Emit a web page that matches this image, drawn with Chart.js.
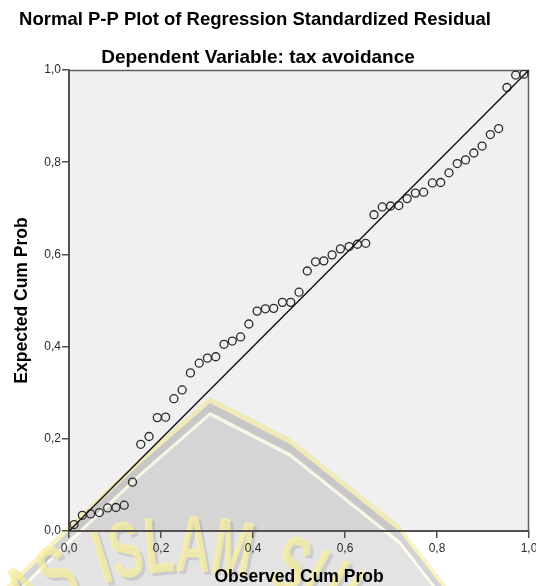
<!DOCTYPE html>
<html>
<head>
<meta charset="utf-8">
<script src="https://cdn.jsdelivr.net/npm/chart.js@4/dist/chart.umd.min.js"></script>
<style>
  html, body { margin: 0; padding: 0; background: #fff; }
  canvas { display: block; }
</style>
</head>
<body>
<canvas id="pp" width="536" height="586"></canvas>
<script>
// Text
const chartTitle = 'Normal P-P Plot of Regression Standardized Residual';
const chartSubtitle = 'Dependent Variable: tax avoidance';
const xAxisTitle = 'Observed Cum Prob';
const yAxisTitle = 'Expected Cum Prob';
const tickLabels = ['0,0', '0,2', '0,4', '0,6', '0,8', '1,0'];
const watermarkText = 'UNIVERSITAS ISLAM SULTAN AGUNG';

// Observed cumulative probability of each standardized residual (55 cases)
const observedCumProb = [
  0.011, 0.029, 0.047, 0.066, 0.084, 0.102, 0.120, 0.138, 0.156, 0.174,
  0.192, 0.210, 0.228, 0.246, 0.264, 0.283, 0.301, 0.319, 0.337, 0.355,
  0.373, 0.391, 0.409, 0.427, 0.445, 0.464, 0.482, 0.500, 0.518, 0.536,
  0.554, 0.572, 0.590, 0.609, 0.627, 0.645, 0.663, 0.681, 0.699, 0.717,
  0.735, 0.753, 0.771, 0.790, 0.808, 0.826, 0.844, 0.862, 0.880, 0.898,
  0.916, 0.934, 0.952, 0.971, 0.989
];

// Expected cumulative probability under the normal distribution
const expectedCumProb = [
  0.014, 0.034, 0.037, 0.040, 0.050, 0.051, 0.056, 0.106, 0.188, 0.205,
  0.246, 0.247, 0.287, 0.306, 0.343, 0.364, 0.375, 0.378, 0.405, 0.412,
  0.421, 0.449, 0.477, 0.482, 0.483, 0.496, 0.496, 0.518, 0.564, 0.584,
  0.586, 0.599, 0.612, 0.617, 0.622, 0.624, 0.686, 0.703, 0.705, 0.706,
  0.721, 0.733, 0.735, 0.755, 0.756, 0.777, 0.797, 0.805, 0.820, 0.835,
  0.860, 0.873, 0.962, 0.989, 0.991
];

// Diagonal reference line end points
const referenceLine = [0, 1];

const FONT = "'Liberation Sans', Arial, Helvetica, sans-serif";

// Faint roof-and-lettering emblem laid behind the plot
function drawWatermark(ctx) {
  const leftPts = [[-30, 622], [50, 543], [140, 458], [210, 397]];
  const rightPts = [[290, 438], [400, 526], [445, 584], [480, 630]];
  function roofPath(dy) {
    leftPts.forEach(([x, y], i) => {
      if (i === 0) ctx.moveTo(x, y + dy); else ctx.lineTo(x, y + dy);
    });
    rightPts.forEach(([x, y]) => ctx.lineTo(x, y + dy));
    ctx.lineTo(480, 720);
    ctx.lineTo(-30, 720);
    ctx.closePath();
  }
  function band(d1, d2, color) {
    ctx.beginPath();
    roofPath(d1);
    roofPath(d2);
    ctx.fillStyle = color;
    ctx.fill('evenodd');
  }
  ctx.save();
  band(0, 6, 'rgba(240, 226, 110, 0.42)');
  band(6, 15, 'rgba(0, 0, 0, 0.17)');
  band(15, 19, 'rgba(255, 250, 215, 0.45)');
  ctx.beginPath();
  roofPath(19);
  ctx.fillStyle = 'rgba(0, 0, 0, 0.11)';
  ctx.fill();

  // lettering along an arc
  const cx = 185, cy = 829, R = 280, sx = 0.6, gap = 2;
  ctx.font = 'bold 80px ' + FONT;
  ctx.textAlign = 'center';
  ctx.textBaseline = 'middle';
  const chars = watermarkText.split('');
  const widths = chars.map(ch => ctx.measureText(ch).width * sx * (ch === ' ' ? 1.5 : 1));
  const anchor = watermarkText.indexOf('ISLAM') + 3;
  const angles = new Array(chars.length);
  angles[anchor] = Math.asin((193 - cx) / R);
  for (let k = anchor + 1; k < chars.length; k++) {
    angles[k] = angles[k - 1] + (widths[k - 1] / 2 + widths[k] / 2 + gap) / R;
  }
  for (let k = anchor - 1; k >= 0; k--) {
    angles[k] = angles[k + 1] - (widths[k + 1] / 2 + widths[k] / 2 + gap) / R;
  }
  chars.forEach((ch, k) => {
    if (ch === ' ') return;
    const t = angles[k];
    const px = cx + R * Math.sin(t), py = cy - R * Math.cos(t);
    [[3, 3, 'rgba(0, 0, 0, 0.10)'], [0, 0, 'rgba(250, 240, 160, 0.75)']].forEach(([ox, oy, col]) => {
      ctx.save();
      ctx.translate(px + ox, py + oy);
      ctx.rotate(t);
      ctx.scale(sx, 1);
      ctx.fillStyle = col;
      ctx.fillText(ch, 0, 0);
      ctx.restore();
    });
  });
  ctx.restore();
}

const backdrop = {
  id: 'backdrop',
  beforeDraw(chart) {
    const { ctx, chartArea: a, width, height } = chart;
    ctx.save();
    ctx.fillStyle = '#ffffff';
    ctx.fillRect(0, 0, width, height);
    ctx.fillStyle = '#f0f0f0';
    ctx.fillRect(a.left, a.top, a.right - a.left, a.bottom - a.top);
    drawWatermark(ctx);
    ctx.fillStyle = '#000';
    ctx.textAlign = 'center';
    ctx.textBaseline = 'alphabetic';
    ctx.font = 'bold 18.5px ' + FONT;
    ctx.fillText(chartTitle, 255, 25);
    ctx.font = 'bold 19px ' + FONT;
    ctx.fillText(chartSubtitle, 258, 63);
    ctx.restore();
  },
  beforeDatasetsDraw(chart) {
    const { ctx, chartArea: a } = chart;
    ctx.save();
    ctx.strokeStyle = '#5f5f5f';
    ctx.lineWidth = 1.5;
    ctx.beginPath();
    ctx.moveTo(a.left, a.top + 0.5);
    ctx.lineTo(a.right - 0.5, a.top + 0.5);
    ctx.lineTo(a.right - 0.5, a.bottom);
    ctx.stroke();
    ctx.restore();
  }
};

const axisCommon = {
  type: 'linear',
  min: 0,
  max: 1,
  border: { display: true, color: '#505050', width: 2 },
  grid: { display: true, drawOnChartArea: false, drawTicks: true, tickLength: 7, color: '#505050', lineWidth: 1.5 },
  ticks: {
    stepSize: 0.2,
    color: '#2b2b2b',
    font: { family: FONT, size: 12 },
    callback: (value, index) => tickLabels[index]
  }
};

new Chart(document.getElementById('pp'), {
  type: 'scatter',
  data: {
    datasets: [
      {
        type: 'line',
        data: referenceLine.map(v => ({ x: v, y: v })),
        borderColor: '#111',
        borderWidth: 1.4,
        pointRadius: 0,
        fill: false
      },
      {
        data: observedCumProb.map((x, i) => ({ x, y: expectedCumProb[i] })),
        pointStyle: 'circle',
        pointRadius: 4,
        pointBorderWidth: 1.3,
        pointBorderColor: '#2a2a2a',
        pointBackgroundColor: 'rgba(0,0,0,0)'
      }
    ]
  },
  options: {
    responsive: false,
    animation: false,
    layout: { padding: { top: 70, right: 7, bottom: 0, left: 0 } },
    plugins: { legend: { display: false }, tooltip: { enabled: false }, title: { display: false } },
    scales: {
      x: Object.assign({}, axisCommon, {
        position: 'bottom',
        ticks: Object.assign({}, axisCommon.ticks, { padding: 3, maxRotation: 0 }),
        title: {
          display: true, text: xAxisTitle, color: '#000',
          font: { family: FONT, size: 17.5, weight: 'bold', lineHeight: 1 },
          padding: { top: 0, bottom: 0.5 }
        },
        afterFit(scale) { scale.height = 55; scale.paddingRight = 0; }
      }),
      y: Object.assign({}, axisCommon, {
        position: 'left',
        ticks: Object.assign({}, axisCommon.ticks, { padding: 1 }),
        title: {
          display: true, text: yAxisTitle, color: '#000',
          font: { family: FONT, size: 17.5, weight: 'bold', lineHeight: 1 },
          padding: { top: 13, bottom: 0 }
        },
        afterFit(scale) { scale.width = 69; }
      })
    }
  },
  plugins: [backdrop]
});
</script>
</body>
</html>
